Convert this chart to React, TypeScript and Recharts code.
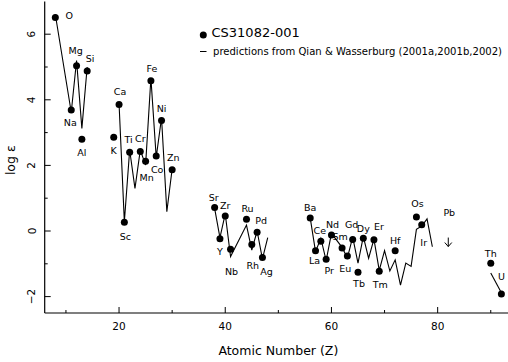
import React from 'react';
import { ComposedChart, Line, Scatter, XAxis, YAxis, Legend } from 'recharts';

// ---------- data ----------
const elements = ['O','Na','Mg','Al','Si','K','Ca','Sc','Ti','Cr','Mn','Fe','Co','Ni','Zn','Sr','Y','Zr','Nb','Ru','Rh','Pd','Ag','Ba','La','Ce','Pr','Nd','Sm','Eu','Gd','Tb','Dy','Er','Tm','Hf','Os','Ir','Th','U'];
const obsZ = [8,11,12,13,14,19,20,21,22,24,25,26,27,28,30,38,39,40,41,44,45,46,47,56,57,58,59,60,62,63,64,65,66,68,69,72,76,77,90,92];
const obsLogEps = [6.51,3.69,5.04,2.80,4.88,2.86,3.86,0.27,2.40,2.42,2.13,4.58,2.29,3.37,1.87,0.72,-0.24,0.46,-0.56,0.36,-0.41,-0.04,-0.81,0.40,-0.60,-0.31,-0.86,-0.12,-0.52,-0.76,-0.26,-1.26,-0.22,-0.27,-1.23,-0.60,0.43,0.19,-0.98,-1.92];

const predLightZ = [8, 11, 12, 13, 14];
const predLight = [6.6, 3.62, 5.2, 3.13, 5.0];
const predIronZ = [20, 21, 22, 23, 24, 25, 26, 27, 28, 29, 30];
const predIron = [3.89, 0.28, 2.47, 1.30, 2.47, 2.01, 4.66, 2.25, 3.45, 0.59, 1.89];
const predSrCdZ = [38, 39, 40, 41, 44, 45, 46, 47, 48];
const predSrCd = [0.69, -0.2, 0.52, -0.78, 0.18, -0.58, 0.0, -0.85, -0.2];
const predBaAuZ = [56, 57, 58, 59, 60, 62, 63, 64, 65, 66, 67, 68, 69, 70, 71, 72, 73, 74, 75, 76, 77, 78, 79];
const predBaAu = [0.4, -0.63, -0.22, -0.9, -0.07, -0.5, -0.82, -0.19, -0.98, -0.17, -0.83, -0.25, -1.2, -0.6, -1.22, -0.88, -1.65, -0.98, -1.08, 0.05, 0.15, 0.37, -0.48];
const predActZ = [90, 92];
const predAct = [-1.28, -1.88];

const pbZ = [82];
const pbLimit = [-0.2];

const xTicks = [10, 20, 30, 40, 50, 60, 70, 80, 90];
const xLabelTicks = [20, 40, 60, 80];
const yTicks = [-2, -1, 0, 1, 2, 3, 4, 5, 6];
const yLabelTicks = [-2, 0, 2, 4, 6];

// label placement (pixel offsets from each dot), kept apart from data
const labelOffsets: Record<string, [number, number]> = {
  O: [14, -2], Na: [-1, 13], Mg: [-1, -15], Al: [0, 13], Si: [3, -12], K: [0, 13],
  Ca: [1, -13], Sc: [1, 14], Ti: [-1, -13], Cr: [0, -13], Mn: [1, 16], Fe: [1, -12],
  Co: [1, 14], Ni: [0, -12], Zn: [1, -12], Sr: [-1, -10], Y: [0, 13], Zr: [0, -10],
  Nb: [1, 22], Ru: [1, -11], Rh: [1, 21], Pd: [4, -12], Ag: [4, 14], Ba: [0, -10],
  La: [-1, 10], Ce: [-1, -11], Pr: [3, 11], Nd: [1, -10], Sm: [-2, -11], Eu: [-2, 13],
  Gd: [-1, -15], Tb: [1, 11], Dy: [0, -10], Er: [5, -13], Tm: [1, 13], Hf: [0, -10],
  Os: [1, -13], Ir: [2, 18], Th: [0, -10], U: [0, -17],
};

const zip = (zs: number[], vs: number[]) => zs.map((z, i) => ({ z, v: vs[i] }));
const obsData = obsZ.map((z, i) => ({ z, v: obsLogEps[i], el: elements[i] }));
const predSegments = [
  zip(predLightZ, predLight),
  zip(predIronZ, predIron),
  zip(predSrCdZ, predSrCd),
  zip(predBaAuZ, predBaAu),
  zip(predActZ, predAct),
];
const pbData = zip(pbZ, pbLimit);

const FONT = '"DejaVu Sans", sans-serif';

// ---------- custom pieces ----------
const BottomTick = (props: any) => {
  const { x, y, payload } = props;
  const major = xLabelTicks.includes(payload.value);
  return (
    <g>
      <line x1={x} x2={x} y1={y} y2={y - (major ? 6 : 3)} stroke="#000" strokeWidth={1} />
      {major && (
        <text x={x} y={y + 17} textAnchor="middle" fontSize={10.5} fontFamily={FONT} fill="#000">
          {payload.value}
        </text>
      )}
    </g>
  );
};

const TopTick = (props: any) => {
  const { x, y, payload } = props;
  const major = xLabelTicks.includes(payload.value);
  return <line x1={x} x2={x} y1={y} y2={y + (major ? 6 : 3)} stroke="#000" strokeWidth={1} />;
};

const fmt = (v: number) => (v < 0 ? '\u2212' + Math.abs(v) : String(v));

const LeftTick = (props: any) => {
  const { x, y, payload } = props;
  const major = yLabelTicks.includes(payload.value);
  const lx = 35.5;
  return (
    <g>
      <line x1={x} x2={x + (major ? 6 : 3)} y1={y} y2={y} stroke="#000" strokeWidth={1} />
      {major && (
        <text
          x={lx}
          y={y}
          transform={`rotate(-90, ${lx}, ${y})`}
          textAnchor="middle"
          fontSize={10.5}
          fontFamily={FONT}
          fill="#000"
        >
          {fmt(payload.value)}
        </text>
      )}
    </g>
  );
};

const RightTick = (props: any) => {
  const { x, y, payload } = props;
  const major = yLabelTicks.includes(payload.value);
  return <line x1={x} x2={x - (major ? 6 : 3)} y1={y} y2={y} stroke="#000" strokeWidth={1} />;
};

const DotShape = (props: any) => {
  const { cx, cy, payload } = props;
  const [dx, dy] = labelOffsets[payload.el] ?? [0, -12];
  return (
    <g>
      <circle cx={cx} cy={cy} r={3.5} fill="#000" />
      <text
        x={cx + dx}
        y={cy + dy}
        dy="0.36em"
        textAnchor="middle"
        fontSize={9.5}
        fontFamily={FONT}
        fill="#000"
      >
        {payload.el}
      </text>
    </g>
  );
};

const PbShape = (props: any) => {
  const { cx, cy } = props;
  return (
    <g>
      <text x={cx + 1} y={cy - 25} dy="0.36em" textAnchor="middle" fontSize={9.5} fontFamily={FONT} fill="#000">
        Pb
      </text>
      <line x1={cx} x2={cx} y1={cy} y2={cy + 9} stroke="#000" strokeWidth={1} />
      <polyline
        points={`${cx - 3.5},${cy + 5} ${cx},${cy + 9} ${cx + 3.5},${cy + 5}`}
        fill="none"
        stroke="#000"
        strokeWidth={1}
      />
    </g>
  );
};

const LegendBox = () => (
  <svg width={318} height={45} style={{ display: 'block', overflow: 'visible' }}>
    <circle cx={13.3} cy={15} r={3.5} fill="#000" />
    <text x={21.5} y={16.7} fontSize={13} fontFamily={FONT} fill="#000">
      CS31082-001
    </text>
    <line x1={10} x2={16.5} y1={31.5} y2={31.5} stroke="#000" strokeWidth={1} />
    <text x={23} y={34.5} fontSize={10} fontFamily={FONT} fill="#000" textLength={289} lengthAdjust="spacingAndGlyphs">
      predictions from Qian &amp; Wasserburg (2001a,2001b,2002)
    </text>
  </svg>
);

const XTitle = (props: any) => {
  const vb = props.viewBox || { x: 44.7, y: 313, width: 467, height: 49 };
  return (
    <text x={vb.x + vb.width / 2} y={vb.y + 42} textAnchor="middle" fontSize={12.5} fontFamily={FONT} fill="#000">
      Atomic Number (Z)
    </text>
  );
};

const YTitle = (props: any) => {
  const vb = props.viewBox || { x: 0, y: 1.4, width: 44.7, height: 311.6 };
  const cx = 15.5;
  const cy = vb.y + vb.height / 2 + 3;
  return (
    <text x={cx} y={cy} transform={`rotate(-90, ${cx}, ${cy})`} textAnchor="middle" fontSize={12.5} fontFamily={FONT} fill="#000">
      log ε
    </text>
  );
};

export default function App() {
  return (
    <div style={{ position: 'absolute', left: 0, top: 0, width: 508, height: 362, overflow: 'hidden', background: '#fff' }}>
      <ComposedChart width={520} height={362} margin={{ top: 1.4, right: 8, bottom: 0, left: 0 }}>
        <XAxis
          xAxisId="b"
          type="number"
          dataKey="z"
          domain={[6, 94]}
          allowDataOverflow
          ticks={xTicks}
          interval={0}
          height={49}
          tickSize={0}
          tickMargin={0}
          tickLine={false}
          axisLine={{ stroke: '#000', strokeWidth: 1.2 }}
          tick={<BottomTick />}
          label={{ content: (p: any) => <XTitle {...p} /> }}
        />
        <XAxis
          xAxisId="t"
          orientation="top"
          type="number"
          dataKey="z"
          domain={[6, 94]}
          allowDataOverflow
          ticks={xTicks}
          interval={0}
          height={0}
          tickSize={0}
          tickMargin={0}
          tickLine={false}
          axisLine={{ stroke: '#000', strokeWidth: 1.2 }}
          tick={<TopTick />}
        />
        <YAxis
          yAxisId="l"
          type="number"
          dataKey="v"
          domain={[-2.5, 7]}
          allowDataOverflow
          ticks={yTicks}
          interval={0}
          width={44.7}
          tickSize={0}
          tickMargin={0}
          tickLine={false}
          axisLine={{ stroke: '#000', strokeWidth: 1.2 }}
          tick={<LeftTick />}
          label={{ content: (p: any) => <YTitle {...p} /> }}
        />
        <YAxis
          yAxisId="r"
          orientation="right"
          type="number"
          dataKey="v"
          domain={[-2.5, 7]}
          allowDataOverflow
          ticks={yTicks}
          interval={0}
          width={0}
          tickSize={0}
          tickMargin={0}
          tickLine={false}
          axisLine={{ stroke: '#000', strokeWidth: 1.2 }}
          tick={<RightTick />}
        />
        {predSegments.map((seg, i) => (
          <Line
            key={'pred' + i}
            xAxisId="b"
            yAxisId="l"
            data={seg}
            dataKey="v"
            type="linear"
            stroke="#000"
            strokeWidth={1.1}
            dot={false}
            activeDot={false}
            legendType="none"
            isAnimationActive={false}
          />
        ))}
        <Scatter
          xAxisId="b"
          yAxisId="l"
          data={obsData}
          dataKey="v"
          shape={<DotShape />}
          legendType="none"
          isAnimationActive={false}
        />
        <Scatter
          xAxisId="b"
          yAxisId="l"
          data={pbData}
          dataKey="v"
          shape={<PbShape />}
          legendType="none"
          isAnimationActive={false}
        />
        <Legend
          layout="vertical"
          align="center"
          verticalAlign="middle"
          content={() => <LegendBox />}
          wrapperStyle={{ position: 'absolute', left: 190, top: 20, width: 318, height: 45 }}
        />
      </ComposedChart>
    </div>
  );
}
